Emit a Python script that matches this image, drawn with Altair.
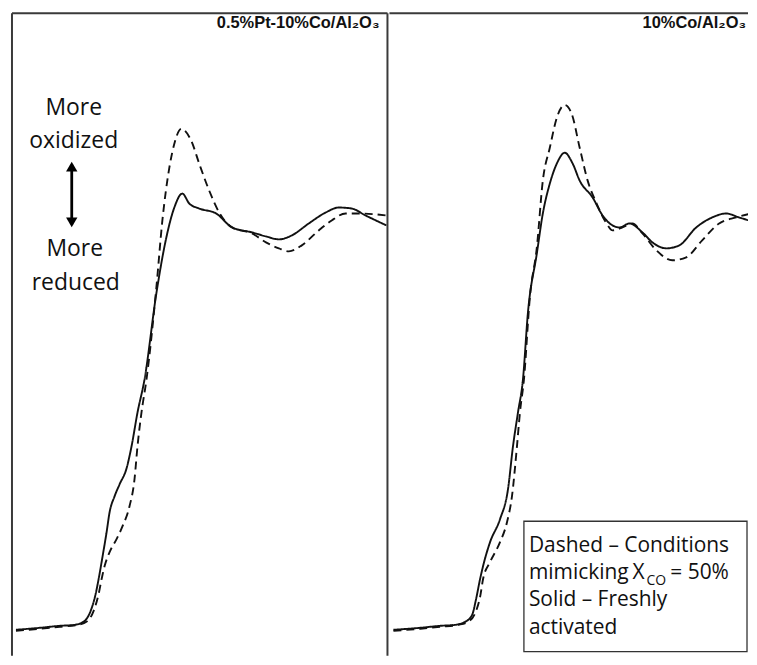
import altair as alt
import pandas as pd

# ---- data (x: relative energy, a.u.; y: normalized absorption) ----
left_solid_x = [4, 28, 48, 63, 73, 79, 84, 87, 91, 95, 98, 103, 108, 115, 120, 126, 133, 145, 155, 163, 171, 178, 188, 205, 221, 241, 255, 268, 281, 298, 315, 328, 341, 355, 376]
left_solid_y = [0.000, 0.005, 0.010, 0.0125, 0.0225, 0.0475, 0.09, 0.1275, 0.185, 0.245, 0.295, 0.335, 0.365, 0.405, 0.46, 0.545, 0.6275, 0.845, 0.985, 1.06, 1.095, 1.07, 1.0575, 1.045, 1.01, 0.9975, 0.9875, 0.98, 0.99, 1.02, 1.0475, 1.06, 1.0575, 1.04, 1.015]

left_dashed_x = [4, 28, 48, 66, 76, 82, 87, 90, 93, 98, 105, 111, 118, 123, 126, 130, 135, 145, 151, 158, 163, 170, 180, 188, 198, 208, 221, 241, 255, 268, 278, 291, 308, 321, 335, 348, 376]
left_dashed_y = [-0.0025, 0.0025, 0.0075, 0.0125, 0.0225, 0.0475, 0.09, 0.1275, 0.16, 0.195, 0.2275, 0.26, 0.31, 0.3775, 0.46, 0.545, 0.6275, 0.86, 1.0275, 1.16, 1.22, 1.2575, 1.2275, 1.17, 1.1025, 1.0475, 1.01, 0.995, 0.9725, 0.9575, 0.95, 0.965, 1.0025, 1.0275, 1.045, 1.045, 1.04]

right_solid_x = [4, 31, 51, 66, 76, 83, 87, 91, 94, 101, 111, 119, 124, 129, 134, 139, 148, 154, 161, 168, 176, 184, 191, 204, 214, 224, 231, 241, 254, 264, 278, 291, 308, 324, 338, 351, 368]
right_solid_y = [0.0, 0.005, 0.01, 0.0125, 0.02, 0.0375, 0.0775, 0.1275, 0.16, 0.22, 0.2775, 0.3525, 0.46, 0.545, 0.6275, 0.795, 0.945, 1.045, 1.12, 1.17, 1.1975, 1.17, 1.1275, 1.085, 1.04, 1.015, 1.01, 1.02, 0.9975, 0.9725, 0.9575, 0.965, 1.01, 1.035, 1.045, 1.035, 1.0225]

right_dashed_x = [4, 31, 51, 69, 79, 87, 91, 94, 101, 111, 118, 123, 128, 131, 135, 141, 148, 154, 161, 168, 176, 183, 191, 199, 208, 218, 224, 234, 244, 254, 268, 284, 298, 314, 331, 348, 368]
right_dashed_y = [-0.0025, 0.0025, 0.0075, 0.0125, 0.02, 0.0475, 0.0825, 0.1275, 0.17, 0.22, 0.27, 0.335, 0.46, 0.545, 0.6275, 0.835, 0.96, 1.1275, 1.21, 1.285, 1.3175, 1.295, 1.21, 1.1275, 1.07, 1.02, 1.0025, 1.01, 1.02, 0.995, 0.9525, 0.9275, 0.935, 0.9775, 1.02, 1.035, 1.0475]

panel_titles = ["0.5%Pt-10%Co/Al\u2082O\u2083", "10%Co/Al\u2082O\u2083"]
series_names = ["Solid", "Dashed"]

LW, RW, H = 377, 360, 645
YDOM = [-0.065, 1.5475]
INK = "#111111"
BORDER = "#3a3a3a"
FONT = "Open Sans"
TFONT = "Liberation Sans, Arial, sans-serif"


def frame(xs_s, ys_s, xs_d, ys_d):
    rows = [{"x": a, "y": b, "s": "Solid"} for a, b in zip(xs_s, ys_s)]
    rows += [{"x": a, "y": b, "s": "Dashed"} for a, b in zip(xs_d, ys_d)]
    return pd.DataFrame(rows)


def lines(df, xmax):
    return alt.Chart(df).mark_line(clip=True, interpolate="monotone", strokeWidth=1.9, color=INK).encode(
        x=alt.X("x:Q", scale=alt.Scale(domain=[0, xmax], nice=False, zero=False), axis=None),
        y=alt.Y("y:Q", scale=alt.Scale(domain=YDOM, nice=False, zero=False), axis=None),
        strokeDash=alt.StrokeDash("s:N", scale=alt.Scale(domain=series_names, range=[[1, 0], [8, 5]]), legend=None),
        detail="s:N",
    )


def rule(x, x2, y, y2, w=2):
    return alt.Chart().mark_rule(color=BORDER, strokeWidth=w).encode(
        x=alt.value(x), x2=alt.value(x2), y=alt.value(y), y2=alt.value(y2))


def txt(t, x, y, size, align="left", weight="normal", font=FONT, baseline="alphabetic"):
    return alt.Chart().mark_text(text=t, align=align, baseline=baseline, fontSize=size, fontWeight=weight,
                                 font=font, color=INK).encode(x=alt.value(x), y=alt.value(y))


left_df = frame(left_solid_x, left_solid_y, left_dashed_x, left_dashed_y)
right_df = frame(right_solid_x, right_solid_y, right_dashed_x, right_dashed_y)

arrow = [
    alt.Chart().mark_rule(color="black", strokeWidth=2.8).encode(
        x=alt.value(60), y=alt.value(152), y2=alt.value(212)),
    alt.Chart().mark_point(shape="triangle-up", filled=True, size=130, color="black", opacity=1).encode(
        x=alt.value(60), y=alt.value(154)),
    alt.Chart().mark_point(shape="triangle-down", filled=True, size=130, color="black", opacity=1).encode(
        x=alt.value(60), y=alt.value(210)),
]

left = alt.layer(
    lines(left_df, LW),
    rule(0, 0, 0, H), rule(0, LW, 0, 0), rule(LW, LW, 0, H),
    txt(panel_titles[0], 369, 15, 16.5, align="right", weight="bold", font=TFONT),
    txt("More", 62, 95, 23, align="center", baseline="middle"),
    txt("oxidized", 62, 128, 23, align="center", baseline="middle"),
    txt("More", 63, 237, 23, align="center", baseline="middle"),
    txt("reduced", 64, 271, 23, align="center", baseline="middle"),
    *arrow,
).properties(width=LW, height=H)

legend_box = alt.Chart().mark_rect(fill="white", stroke="#333333", strokeWidth=1.3).encode(
    x=alt.value(135), x2=alt.value(359), y=alt.value(510), y2=alt.value(641))

right = alt.layer(
    lines(right_df, RW),
    rule(0, RW, 0, 0),
    txt(panel_titles[1], 358, 15, 16.5, align="right", weight="bold", font=TFONT),
    legend_box,
    txt("Dashed \u2013 Conditions", 140, 541, 21),
    txt("mimicking", 140, 568, 21),
    txt("X", 244, 568, 21),
    txt("CO", 258, 574, 14),
    txt("= 50%", 282, 568, 21),
    txt("Solid \u2013 Freshly", 140, 595, 21),
    txt("activated", 140, 623, 21),
).properties(width=RW, height=H)

chart = alt.hconcat(left, right, spacing=0).properties(
    padding={"left": 3, "top": 3, "right": 0, "bottom": 0},
    background="white",
).configure_view(stroke=None)

chart.save("out.html", embed_options={"renderer": "svg", "actions": False})
